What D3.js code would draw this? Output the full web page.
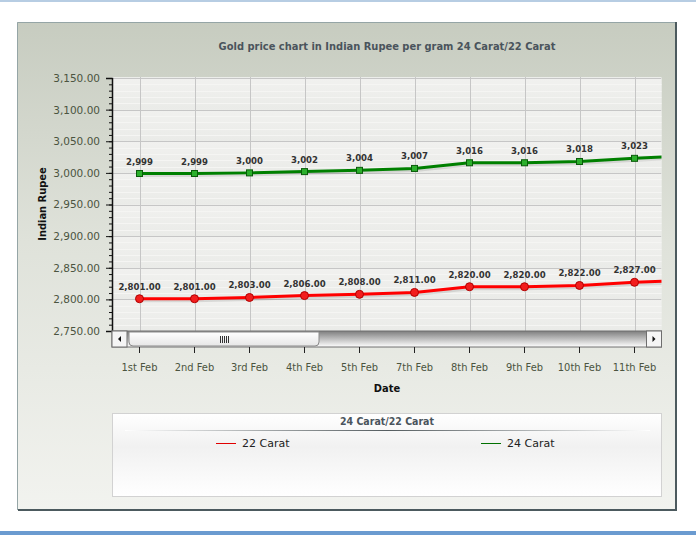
<!DOCTYPE html>
<html>
<head>
<meta charset="utf-8">
<script src="https://cdn.jsdelivr.net/npm/d3@7"></script>
<style>
  body { margin: 0; background: #fff; }
  svg { display: block; }
</style>
</head>
<body>
<div id="chart-area"></div>
<script>
// Gold price chart - 24 Carat / 22 Carat

const dates = ["1st Feb", "2nd Feb", "3rd Feb", "4th Feb", "5th Feb", "7th Feb",
  "8th Feb", "9th Feb", "10th Feb", "11th Feb", "12th Feb"];
const carat24 = [2999, 2999, 3000, 3002, 3004, 3007, 3016, 3016, 3018, 3023, 3027];
const carat22 = [2801, 2801, 2803, 2806, 2808, 2811, 2820, 2820, 2822, 2827, 2830];
const yTicks = [2750, 2800, 2850, 2900, 2950, 3000, 3050, 3100, 3150];
const seriesNames = ["22 Carat", "24 Carat"];

const W = 696, H = 535;
const PLOT = { LEFT: 112, RIGHT: 661.5, TOP: 77, BOTTOM: 331 };
const BAND = 55;

const svg = d3.select("#chart-area").append("svg")
  .attr("width", W)
  .attr("height", H);

const defs = svg.append("defs");

const frameGrad = defs.append("linearGradient")
  .attr("id", "frameGrad").attr("x1", 0).attr("y1", 0).attr("x2", 0).attr("y2", 1);
frameGrad.append("stop").attr("offset", "0%").attr("stop-color", "#c7ccc0");
frameGrad.append("stop").attr("offset", "45%").attr("stop-color", "#dfe2da");
frameGrad.append("stop").attr("offset", "100%").attr("stop-color", "#f2f3ef");

const legendGrad = defs.append("linearGradient")
  .attr("id", "legendGrad").attr("x1", 0).attr("y1", 0).attr("x2", 0).attr("y2", 1);
legendGrad.append("stop").attr("offset", "0%").attr("stop-color", "#ffffff");
legendGrad.append("stop").attr("offset", "40%").attr("stop-color", "#f1f1f1");
legendGrad.append("stop").attr("offset", "100%").attr("stop-color", "#ffffff");

const sepGrad = defs.append("linearGradient")
  .attr("id", "sepGrad").attr("x1", 0).attr("y1", 0).attr("x2", 1).attr("y2", 0);
sepGrad.append("stop").attr("offset", "0%").attr("stop-color", "#ffffff");
sepGrad.append("stop").attr("offset", "50%").attr("stop-color", "#555d60");
sepGrad.append("stop").attr("offset", "100%").attr("stop-color", "#ffffff");

const trackGrad = defs.append("linearGradient")
  .attr("id", "trackGrad").attr("x1", 0).attr("y1", 0).attr("x2", 0).attr("y2", 1);
trackGrad.append("stop").attr("offset", "0%").attr("stop-color", "#7e7e7e");
trackGrad.append("stop").attr("offset", "100%").attr("stop-color", "#ffffff");

const thumbGrad = defs.append("linearGradient")
  .attr("id", "thumbGrad").attr("x1", 0).attr("y1", 0).attr("x2", 0).attr("y2", 1);
thumbGrad.append("stop").attr("offset", "0%").attr("stop-color", "#ffffff");
thumbGrad.append("stop").attr("offset", "100%").attr("stop-color", "#e6e6e6");

const bandGrad = defs.append("linearGradient")
  .attr("id", "bandGrad").attr("x1", 0).attr("y1", 0).attr("x2", 0).attr("y2", 1);
bandGrad.append("stop").attr("offset", "0%").attr("stop-color", "#f1f1ef");
bandGrad.append("stop").attr("offset", "100%").attr("stop-color", "#eaebe8");

defs.append("clipPath").attr("id", "plotClip")
  .append("rect")
  .attr("x", PLOT.LEFT).attr("y", PLOT.TOP - 40)
  .attr("width", PLOT.RIGHT - PLOT.LEFT).attr("height", PLOT.BOTTOM - PLOT.TOP + 40);

// page strips
svg.append("rect").attr("x", 0).attr("y", 0).attr("width", W).attr("height", 2).attr("fill", "#b7cde3");
svg.append("rect").attr("x", 0).attr("y", 531).attr("width", W).attr("height", 4).attr("fill", "#6b9bd0");

// frame
svg.append("rect")
  .attr("x", 17).attr("y", 22).attr("width", 659).attr("height", 488)
  .attr("fill", "url(#frameGrad)");
svg.append("path").attr("d", "M17.5,510 V22.5 H676")
  .attr("fill", "none").attr("stroke", "#95a5a6").attr("stroke-width", 1);
svg.append("path").attr("d", "M18,510 H676 V22")
  .attr("fill", "none").attr("stroke", "#4c5a5e").attr("stroke-width", 2);

// title
svg.append("text")
  .attr("x", 387).attr("y", 50)
  .attr("text-anchor", "middle")
  .attr("font-family", "'DejaVu Sans Condensed', 'DejaVu Sans', sans-serif")
  .attr("font-weight", "bold")
  .attr("font-size", "11px")
  .attr("fill", "#4a545c")
  .text("Gold price chart in Indian Rupee per gram 24 Carat/22 Carat");

// scales
const x = d3.scaleBand()
  .domain(dates)
  .range([PLOT.LEFT, PLOT.LEFT + BAND * dates.length])
  .padding(0);

const y = d3.scaleLinear()
  .domain([2750, 3150])
  .range([PLOT.BOTTOM, PLOT.TOP + 1]);

const cx = d => x(d) + x.bandwidth() / 2;
// categories whose centre is inside the scrolled window
const shown = dates.filter(d => cx(d) < PLOT.RIGHT);

// plot background with soft bands
const g = svg.append("g");
g.append("rect")
  .attr("x", PLOT.LEFT).attr("y", PLOT.TOP)
  .attr("width", PLOT.RIGHT - PLOT.LEFT).attr("height", PLOT.BOTTOM - PLOT.TOP)
  .attr("fill", "#ecedea");
g.selectAll(".band")
  .data(yTicks.slice(1))
  .enter().append("rect")
  .attr("class", "band")
  .attr("x", PLOT.LEFT)
  .attr("y", d => y(d))
  .attr("width", PLOT.RIGHT - PLOT.LEFT)
  .attr("height", d => y(d - 50) - y(d))
  .attr("fill", "url(#bandGrad)");

// minor faint lines
g.selectAll(".minor")
  .data(d3.range(2760, 3150, 10).filter(v => v % 50 !== 0))
  .enter().append("line")
  .attr("x1", PLOT.LEFT).attr("x2", PLOT.RIGHT)
  .attr("y1", d => Math.round(y(d)) + 0.5).attr("y2", d => Math.round(y(d)) + 0.5)
  .attr("stroke", "#f5f5f3").attr("stroke-width", 1);

// grid
const grid = svg.append("g").attr("clip-path", "url(#plotClip)");
grid.selectAll(".hgrid")
  .data(yTicks)
  .enter().append("line")
  .attr("x1", PLOT.LEFT).attr("x2", PLOT.RIGHT)
  .attr("y1", d => Math.round(y(d)) + 0.5).attr("y2", d => Math.round(y(d)) + 0.5)
  .attr("stroke", "#c6c6c6");
grid.selectAll(".vgrid")
  .data(dates)
  .enter().append("line")
  .attr("x1", d => Math.round(cx(d)) + 0.5).attr("x2", d => Math.round(cx(d)) + 0.5)
  .attr("y1", PLOT.TOP).attr("y2", PLOT.BOTTOM)
  .attr("stroke", "#c6c6c6");

// y axis
const yAxisMinor = d3.axisLeft(y)
  .tickValues(d3.range(2750, 3151, 10))
  .tickSize(3)
  .tickFormat("");
const yAxisCall = d3.axisLeft(y)
  .tickValues(yTicks)
  .tickSize(6)
  .tickPadding(6)
  .tickFormat(d3.format(",.2f"));

const yMinorGroup = svg.append("g")
  .attr("transform", `translate(${PLOT.LEFT},0)`)
  .call(yAxisMinor);
yMinorGroup.select(".domain").remove();
yMinorGroup.selectAll("line").attr("stroke", "#111");

const yAxisGroup = svg.append("g")
  .attr("transform", `translate(${PLOT.LEFT},0)`)
  .call(yAxisCall);
yAxisGroup.select(".domain").attr("stroke", "#111").attr("stroke-width", 1.5);
yAxisGroup.selectAll("line").attr("stroke", "#111");
yAxisGroup.selectAll("text")
  .attr("font-family", "'DejaVu Sans', sans-serif")
  .attr("font-size", "10.5px")
  .attr("fill", "#4b5440");

// series
const series = [
  { name: "24 Carat", values: carat24, color: "#008000", fill: "#2cb02c", edge: "#0a5a0a", fmt: d3.format(",.0f") },
  { name: "22 Carat", values: carat22, color: "#ff0000", fill: "#f21d1d", edge: "#b00000", fmt: d3.format(",.2f") }
];

const lineGen = d3.line()
  .x((d, i) => cx(dates[i]))
  .y(d => y(d));

const plot = svg.append("g").attr("clip-path", "url(#plotClip)");

series.forEach(s => {
  plot.append("path")
    .datum(s.values)
    .attr("d", lineGen)
    .attr("transform", "translate(1,2)")
    .attr("fill", "none")
    .attr("stroke", "#000")
    .attr("stroke-opacity", 0.1)
    .attr("stroke-width", 3);

  plot.append("path")
    .datum(s.values)
    .attr("d", lineGen)
    .attr("fill", "none")
    .attr("stroke", s.color)
    .attr("stroke-width", 3)
    .attr("stroke-linejoin", "round");
});

// markers
plot.selectAll(".sq")
  .data(carat24)
  .enter().append("rect")
  .attr("x", (d, i) => cx(dates[i]) - 3)
  .attr("y", d => y(d) - 3)
  .attr("width", 6).attr("height", 6)
  .attr("fill", series[0].fill)
  .attr("stroke", series[0].edge)
  .attr("stroke-width", 1);

plot.selectAll(".dot")
  .data(carat22)
  .enter().append("circle")
  .attr("cx", (d, i) => cx(dates[i]))
  .attr("cy", d => y(d))
  .attr("r", 4)
  .attr("fill", series[1].fill)
  .attr("stroke", series[1].edge)
  .attr("stroke-width", 1);

// value labels (only for points inside the visible window)
series.forEach(s => {
  const pts = s.values.map((v, i) => ({ v, date: dates[i] }))
    .filter(p => shown.includes(p.date));
  plot.selectAll(null)
    .data(pts)
    .enter().append("text")
    .attr("x", p => cx(p.date))
    .attr("y", p => y(p.v) - 9)
    .attr("text-anchor", "middle")
    .attr("font-family", "'DejaVu Sans Condensed', 'DejaVu Sans', sans-serif")
    .attr("font-weight", "bold")
    .attr("font-size", "9.5px")
    .attr("fill", "#333")
    .text(p => s.fmt(p.v));
});

// scrollbar
const sb = svg.append("g");
const SB = { Y: PLOT.BOTTOM, H: 16 };
sb.append("rect")
  .attr("x", PLOT.LEFT).attr("y", SB.Y)
  .attr("width", PLOT.RIGHT - PLOT.LEFT).attr("height", SB.H)
  .attr("fill", "url(#trackGrad)")
  .attr("stroke", "#6e6e6e");
// left button
sb.append("rect")
  .attr("x", PLOT.LEFT).attr("y", SB.Y)
  .attr("width", 15).attr("height", SB.H)
  .attr("fill", "#f5f5f5").attr("stroke", "#6e6e6e");
sb.append("path")
  .attr("d", `M${PLOT.LEFT + 6},${SB.Y + 8} l3,-3 v6 z`)
  .attr("fill", "#111");
// right button
sb.append("rect")
  .attr("x", PLOT.RIGHT - 15).attr("y", SB.Y)
  .attr("width", 15).attr("height", SB.H)
  .attr("fill", "#f5f5f5").attr("stroke", "#6e6e6e");
sb.append("path")
  .attr("d", `M${PLOT.RIGHT - 6},${SB.Y + 8} l-3,-3 v6 z`)
  .attr("fill", "#111");
// thumb
sb.append("path")
  .attr("d", `M129,${SB.Y + 1} H319 V${SB.Y + 11} Q319,${SB.Y + 15} 315,${SB.Y + 15} H133 Q129,${SB.Y + 15} 129,${SB.Y + 11} Z`)
  .attr("fill", "url(#thumbGrad)")
  .attr("stroke", "#8a8a8a");
sb.selectAll(".grip")
  .data(d3.range(5))
  .enter().append("line")
  .attr("x1", d => 220.5 + d * 2).attr("x2", d => 220.5 + d * 2)
  .attr("y1", SB.Y + 5).attr("y2", SB.Y + 12)
  .attr("stroke", "#333");

// x axis
const xAxisCall = d3.axisBottom(x)
  .tickValues(shown)
  .tickSize(6)
  .tickPadding(10);
const xAxisGroup = svg.append("g")
  .attr("transform", `translate(0,${SB.Y + SB.H})`)
  .call(xAxisCall);
xAxisGroup.select(".domain").remove();
xAxisGroup.selectAll("line").attr("stroke", "#222");
xAxisGroup.selectAll("text")
  .attr("font-family", "'DejaVu Sans Condensed', 'DejaVu Sans', sans-serif")
  .attr("font-size", "11px")
  .attr("fill", "#4b5440");

// axis titles
svg.append("text")
  .attr("x", 387).attr("y", 392)
  .attr("text-anchor", "middle")
  .attr("font-family", "'DejaVu Sans Condensed', 'DejaVu Sans', sans-serif")
  .attr("font-weight", "bold")
  .attr("font-size", "11px")
  .attr("fill", "#111")
  .text("Date");

svg.append("text")
  .attr("transform", "rotate(-90)")
  .attr("x", -204).attr("y", 46)
  .attr("text-anchor", "middle")
  .attr("font-family", "'DejaVu Sans Condensed', 'DejaVu Sans', sans-serif")
  .attr("font-weight", "bold")
  .attr("font-size", "11px")
  .attr("fill", "#111")
  .text("Indian Rupee");

// legend
const legend = svg.append("g");
legend.append("rect")
  .attr("x", 112.5).attr("y", 413.5)
  .attr("width", 549).attr("height", 83)
  .attr("fill", "url(#legendGrad)")
  .attr("stroke", "#d2d2d2");
legend.append("text")
  .attr("x", 387).attr("y", 425)
  .attr("text-anchor", "middle")
  .attr("font-family", "'DejaVu Sans Condensed', 'DejaVu Sans', sans-serif")
  .attr("font-weight", "bold")
  .attr("font-size", "10.5px")
  .attr("fill", "#4a545c")
  .text("24 Carat/22 Carat");
legend.append("rect")
  .attr("x", 125).attr("y", 430)
  .attr("width", 525).attr("height", 1)
  .attr("fill", "url(#sepGrad)");

const legendColor = d3.scaleOrdinal()
  .domain(seriesNames)
  .range(["#e00000", "#007000"]);
const legendX = d3.scalePoint()
  .domain(seriesNames)
  .range([216, 481]);

seriesNames.forEach(name => {
  const row = legend.append("g")
    .attr("transform", `translate(${legendX(name)},443)`);
  row.append("line")
    .attr("x1", 0).attr("x2", 20)
    .attr("y1", 0.5).attr("y2", 0.5)
    .attr("stroke", legendColor(name))
    .attr("stroke-width", 1);
  row.append("text")
    .attr("x", 26).attr("y", 4)
    .attr("font-family", "'DejaVu Sans', sans-serif")
    .attr("font-size", "11px")
    .attr("fill", "#222")
    .text(name);
});
</script>
</body>
</html>
